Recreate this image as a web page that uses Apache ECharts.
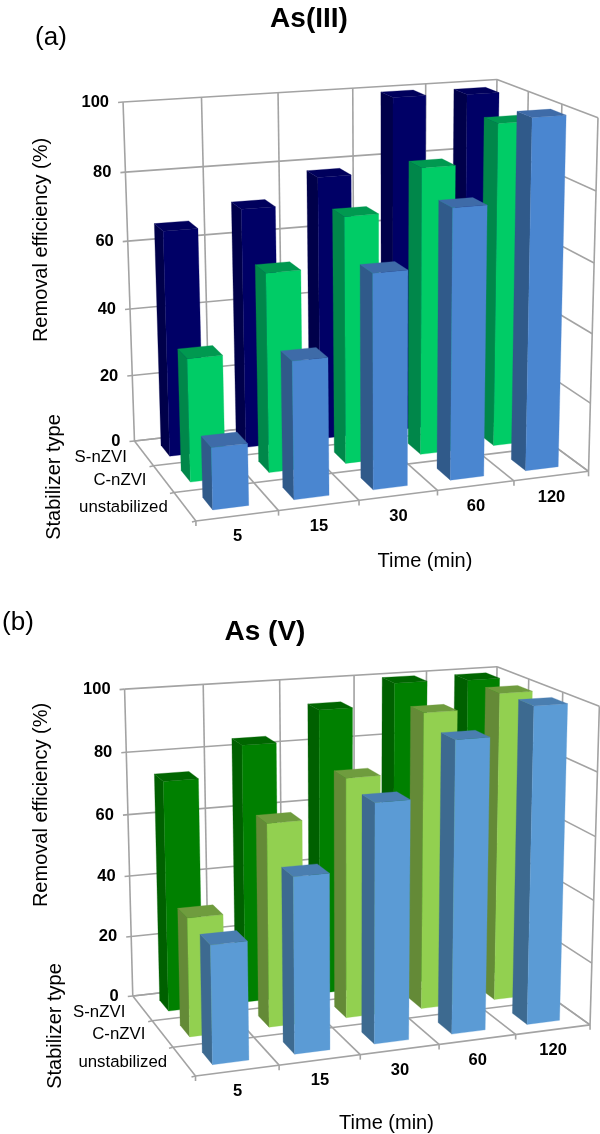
<!DOCTYPE html>
<html><head><meta charset="utf-8">
<style>html,body{margin:0;padding:0;background:#fff}#c{width:600px;height:1134px}</style>
<script src="https://cdn.jsdelivr.net/npm/echarts@6/dist/echarts.min.js"></script>
</head><body><div id="c"></div>
<script>
const times = ['5','15','30','60','120'];
const stabilizers = ['S-nZVI','C-nZVI','unstabilized'];
const valueTicks = [0,20,40,60,80,100];

const asIII_S = [66,70.5,78,99.5,99];
const asIII_C = [35.5,57.5,71.5,83.5,94.5];
const asIII_U = [17.5,39,61,77,100];

const asV_S = [74,83.5,93,100,99.5];
const asV_C = [37.5,64.5,76.5,95,99.5];
const asV_U = [36.5,54.5,74.5,91.5,100];

const coloursA = [
  {front:'#000066',left:'#00004a',top:'#00005c'},
  {front:'#00cc66',left:'#00874a',top:'#009950'},
  {front:'#4a86d0',left:'#305a8a',top:'#3e6ba8'}
];
const coloursB = [
  {front:'#008000',left:'#006000',top:'#006600'},
  {front:'#92d050',left:'#648a37',top:'#6f9c3e'},
  {front:'#5b9bd5',left:'#3d6a90',top:'#4a7eb0'}
];

// view calibration: where the corners of the 3D box land on the page [u,w,v, px,py]
const viewA = [[0,0,0,134,441],[1,0,0,493,400],[0,1,0,196.5,521],[1,1,0,588,472],[0,0,1,123,102],[1,0,1,497,80],[1,1,1,598,117]];
const viewB = [[0,0,0,132,997],[1,0,0,493,953],[0,1,0,196.5,1075],[1,1,0,589,1027],[0,0,1,124.5,689],[1,0,1,497,668],[1,1,1,599.5,705]];

function fitProjection(anchors){
  const rows=[],rhs=[];
  anchors.forEach(([u,w,v,x,y])=>{
    rows.push([u,w,v,1,0,0,0,0,-x*u,-x*w,-x*v]);rhs.push(x);
    rows.push([0,0,0,0,u,w,v,1,-y*u,-y*w,-y*v]);rhs.push(y);
  });
  const n=11,A=[];
  for(let i=0;i<n;i++){A.push(new Array(n+1).fill(0));
    for(let j=0;j<n;j++)rows.forEach(r=>A[i][j]+=r[i]*r[j]);
    rows.forEach((r,k)=>A[i][n]+=r[i]*rhs[k]);
    A[i][i]+=1e-9;}
  for(let c=0;c<n;c++){let p=c;for(let r=c+1;r<n;r++)if(Math.abs(A[r][c])>Math.abs(A[p][c]))p=r;
    [A[c],A[p]]=[A[p],A[c]];
    for(let r=0;r<n;r++){if(r===c)continue;const f=A[r][c]/A[c][c];for(let k=c;k<=n;k++)A[r][k]-=f*A[c][k];}}
  const m=A.map((r,i)=>r[n]/r[i]);
  return (u,w,v)=>{const d=m[8]*u+m[9]*w+m[10]*v+1;
    return [(m[0]*u+m[1]*w+m[2]*v+m[3])/d,(m[4]*u+m[5]*w+m[6]*v+m[7])/d];};
}
const projA=fitProjection(viewA), projB=fitProjection(viewB);

const GRIDC='#a3a3a3', LW=1.6;
const FONT='"Liberation Sans",Arial,sans-serif';
function norm(api,cs){return {
  uEdge:i=>(api.coord([i,0])[0]-api.size([1,0])[0]/2-cs.x)/cs.width,
  v:t=>(cs.y+cs.height-api.coord([0,t])[1])/cs.height};}

function wallRender(proj){return (params,api)=>{
  const cs=params.coordSys,N=norm(api,cs),ch=[];
  const line=(a,b)=>ch.push({type:'line',shape:{x1:a[0],y1:a[1],x2:b[0],y2:b[1]},style:{stroke:GRIDC,lineWidth:LW}});
  const txt=(t,p,align,font)=>ch.push({type:'text',style:{text:t,x:p[0],y:p[1],align:align,verticalAlign:'middle',font:font,fill:'#000'}});
  const us=times.map((_,i)=>N.uEdge(i)).concat([1]);
  const ws=[0,1/3,2/3,1];
  us.forEach(u=>{line(proj(u,0,0),proj(u,0,1));
    line(proj(u,0,0),proj(u,1,0));
    const f=proj(u,1,0);line(f,[f[0],f[1]+5]);});
  ws.forEach(w=>{line(proj(0,w,0),proj(1,w,0));
    if(w>0)line(proj(1,w,0),proj(1,w,1));
    const l=proj(0,w,0);if(w>0)line(l,[l[0]-4,l[1]+1]);});
  valueTicks.forEach(t=>{const vn=N.v(t),a=proj(0,0,vn);
    line([a[0]-5,a[1]+.5],a);line(a,proj(1,0,vn));line(proj(1,0,vn),proj(1,1,vn));
    txt(String(t),[a[0]-14,a[1]+.5],'right','bold 16.5px '+FONT);});
  times.forEach((t,i)=>{const p=proj((us[i]+us[i+1])/2,1,0);
    txt(t,[p[0],p[1]+21],'center','bold 16.5px '+FONT);});
  stabilizers.forEach((s,k)=>{const p=proj(0,(k+.5)/3,0);
    txt(s,[p[0]-17,p[1]+(k===0?4:1)],'right','16.8px '+FONT);});
  return {type:'group',children:ch};
};}

function barRender(proj,rowIndex,c){return (params,api)=>{
  const cs=params.coordSys,N=norm(api,cs);
  const band=api.size([1,0])[0]/cs.width;
  const uc=(api.coord([api.value(0),0])[0]-cs.x)/cs.width;
  const hu=band*0.22, hw=(1/3)*0.22, wc=(rowIndex+.5)/3;
  const v=N.v(api.value(1));
  const u0=uc-hu,u1=uc+hu,w0=wc-hw,w1=wc+hw;
  const poly=(pts,f)=>({type:'polygon',shape:{points:pts},style:{fill:f,stroke:f,lineWidth:.3}});
  return {type:'group',children:[
    poly([proj(u0,w0,0),proj(u0,w1,0),proj(u0,w1,v),proj(u0,w0,v)],c.left),
    poly([proj(u0,w1,0),proj(u1,w1,0),proj(u1,w1,v),proj(u0,w1,v)],c.front),
    poly([proj(u0,w1,v),proj(u1,w1,v),proj(u1,w0,v),proj(u0,w0,v)],c.top)
  ]};
};}

function panelSeries(g,proj,rows,colours){
  const s=[{type:'custom',name:'walls'+g,xAxisIndex:g,yAxisIndex:g,data:[[0,0]],encode:{x:0,y:1},renderItem:wallRender(proj),silent:true,animation:false,z:1}];
  rows.forEach((vals,k)=>s.push({type:'custom',name:stabilizers[k],xAxisIndex:g,yAxisIndex:g,
    data:vals.map((v,i)=>[i,v]).reverse(),encode:{x:0,y:1},renderItem:barRender(proj,k,colours[k]),silent:true,animation:false,z:2+k}));
  return s;
}
const T=(text,x,y,font,rot,align)=>({type:'text',x:x,y:y,rotation:rot||0,style:{text:text,align:align||'center',verticalAlign:'middle',font:font,fill:'#000'}});

const chart=echarts.init(document.getElementById('c'),null,{renderer:'canvas'});
chart.setOption({
  animation:false,
  grid:[{left:123,top:102,width:374,height:339},{left:124,top:689,width:373,height:308}],
  xAxis:[0,1].map(g=>({gridIndex:g,type:'category',data:times,show:false})),
  yAxis:[0,1].map(g=>({gridIndex:g,type:'value',min:0,max:100,interval:20,show:false})),
  series:[].concat(
    panelSeries(0,projA,[asIII_S,asIII_C,asIII_U],coloursA),
    panelSeries(1,projB,[asV_S,asV_C,asV_U],coloursB)),
  graphic:[
    T('As(III)',309,19,'bold 28px '+FONT),
    T('(a)',51,38,'26px '+FONT),
    T('Removal efficiency (%)',41,240,'20px '+FONT,Math.PI/2),
    T('Stabilizer type',54,477,'20px '+FONT,Math.PI/2),
    T('Time (min)',425,561,'20px '+FONT),
    T('As (V)',265,632,'bold 28px '+FONT),
    T('(b)',18,623,'26px '+FONT),
    T('Removal efficiency (%)',41,805,'20px '+FONT,Math.PI/2),
    T('Stabilizer type',55.5,1026,'20px '+FONT,Math.PI/2),
    T('Time (min)',386.5,1123,'20px '+FONT)
  ]
});
</script></body></html>
